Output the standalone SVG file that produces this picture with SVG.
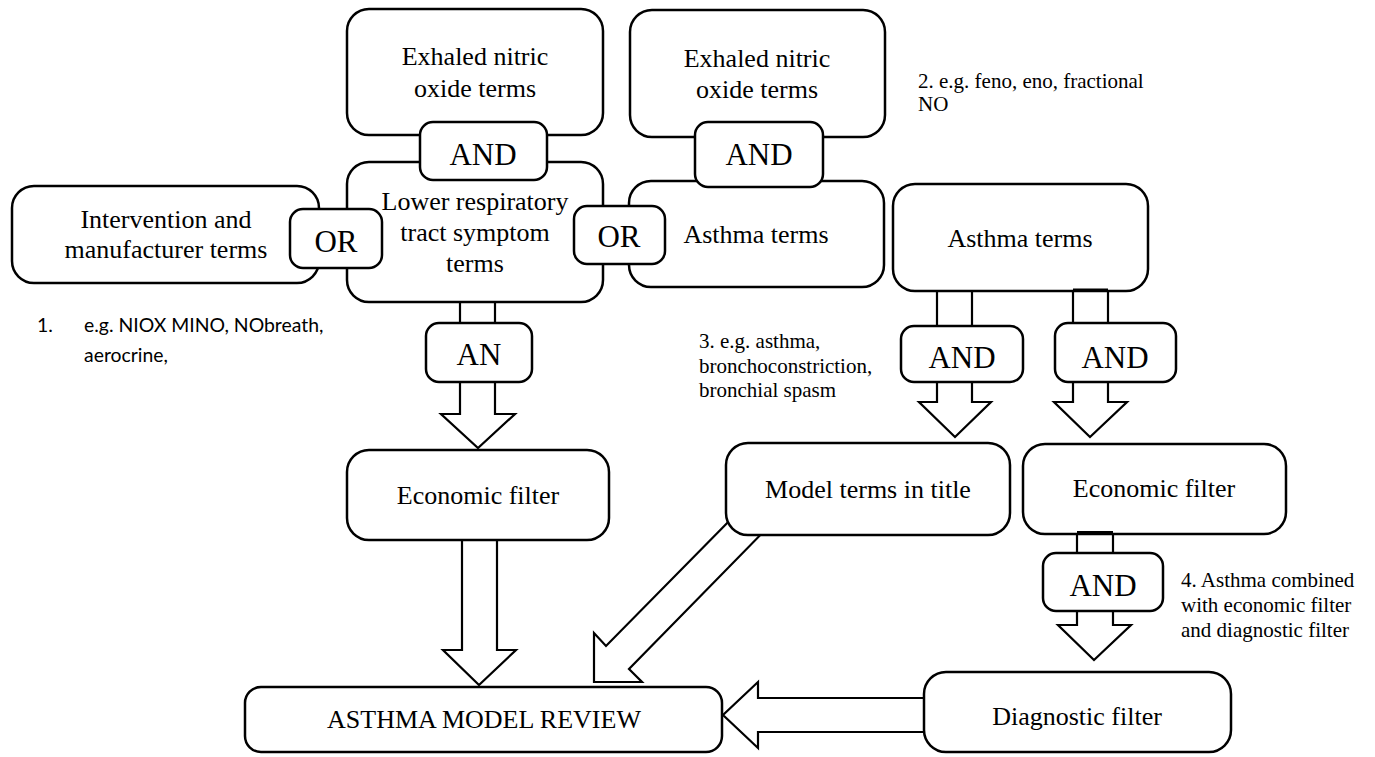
<svg xmlns="http://www.w3.org/2000/svg" width="1375" height="757" viewBox="0 0 1375 757">
  <style>
    .box { fill: #ffffff; stroke: #000000; stroke-width: 2.5; }
    .op { fill: #ffffff; stroke: #000000; stroke-width: 2.5; }
    .arrow { fill: #ffffff; stroke: #000000; stroke-width: 2.2; stroke-linejoin: miter; }
    .line { fill: none; stroke: #000000; stroke-width: 2.2; }
    .t { font-family: "Liberation Serif", "Times New Roman", serif; font-size: 26px; fill: #000000; text-anchor: middle; }
    .opt { font-family: "Liberation Serif", "Times New Roman", serif; font-size: 31px; fill: #000000; text-anchor: middle; }
    .note { font-family: "Liberation Serif", "Times New Roman", serif; font-size: 21px; fill: #000000; }
    .sans { font-family: "Lato", "Noto Sans", sans-serif; font-size: 19.4px; fill: #000000; }
  </style>

  <!-- block-arrow connectors, drawn beneath the boxes -->
  <g id="connectors">
    <!-- lower respiratory -> AN -> economic filter -->
    <path class="arrow" d="M460,295 V414 H441 L478,448 L515,414 H495 V295 Z"/>
    <!-- economic filter -> review -->
    <path class="arrow" d="M462,535 V650 H443 L479,685 L516,650 H497 V535 Z"/>
    <!-- asthma terms -> AND -> model terms in title -->
    <path class="arrow" d="M937,285 V402 H919 L955,437 L991,402 H972 V285 Z"/>
    <!-- asthma terms -> AND -> economic filter -->
    <path class="arrow" d="M1073,289.5 V402 H1054 L1090,437 L1127,402 H1108 V289.5 Z"/>
    <!-- economic filter -> AND -> diagnostic filter -->
    <path class="arrow" d="M1077,532 V625 H1058 L1094,660 L1131,625 H1113 V532 Z"/>
    <!-- diagnostic filter -> review -->
    <path class="arrow" d="M930,698 H758 V682 L723,715 L758,748 V732 H930 Z"/>
    <!-- model terms in title -> review (diagonal) -->
    <path class="arrow" d="M740,510 L606,646 L594,633 L594,682 L642,682 L629,669 L775,520 Z"/>
  </g>

  <!-- main boxes -->
  <g id="exhaled-1">
    <rect class="box" x="347" y="9" width="256" height="126" rx="22"/>
    <text class="t" x="475" y="65">Exhaled nitric</text>
    <text class="t" x="475" y="97">oxide terms</text>
  </g>
  <g id="lower-respiratory">
    <rect class="box" x="347" y="162" width="256" height="140" rx="22"/>
    <text class="t" x="475" y="210">Lower respiratory</text>
    <text class="t" x="475" y="241">tract symptom</text>
    <text class="t" x="475" y="272">terms</text>
  </g>
  <g id="intervention">
    <rect class="box" x="12" y="186" width="307" height="97" rx="22"/>
    <text class="t" x="166" y="228">Intervention and</text>
    <text class="t" x="166" y="258">manufacturer terms</text>
  </g>
  <g id="exhaled-2">
    <rect class="box" x="630" y="10" width="255" height="127" rx="22"/>
    <text class="t" x="757" y="67">Exhaled nitric</text>
    <text class="t" x="757" y="98">oxide terms</text>
  </g>
  <g id="asthma-1">
    <rect class="box" x="629" y="181" width="255" height="106" rx="22"/>
    <text class="t" x="756" y="243">Asthma terms</text>
  </g>
  <g id="asthma-2">
    <rect class="box" x="893" y="184" width="255" height="107" rx="22"/>
    <text class="t" x="1020" y="247">Asthma terms</text>
  </g>
  <g id="economic-filter-1">
    <rect class="box" x="347" y="450" width="262" height="90" rx="22"/>
    <text class="t" x="478" y="504">Economic filter</text>
  </g>
  <g id="model-terms">
    <rect class="box" x="726" y="443" width="284" height="92" rx="22"/>
    <text class="t" x="868" y="498">Model terms in title</text>
  </g>
  <g id="economic-filter-2">
    <rect class="box" x="1023" y="444" width="263" height="90" rx="22"/>
    <text class="t" x="1154" y="497">Economic filter</text>
  </g>
  <g id="diagnostic-filter">
    <rect class="box" x="924" y="672" width="307" height="80" rx="22"/>
    <text class="t" x="1077" y="725">Diagnostic filter</text>
  </g>
  <g id="review">
    <rect class="box" x="245" y="687" width="477" height="65" rx="16"/>
    <text class="t" x="484" y="728">ASTHMA MODEL REVIEW</text>
  </g>

  <!-- short caps where two shafts leave their boxes -->
  <g id="shaft-caps">
    <path class="line" d="M1073,289.5 H1108 M1077,532 H1113"/>
  </g>

  <!-- operator boxes -->
  <g id="and-1">
    <rect class="op" x="420" y="122" width="127" height="58" rx="13"/>
    <text class="opt" x="483" y="165">AND</text>
  </g>
  <g id="and-2">
    <rect class="op" x="695" y="122" width="128" height="65" rx="13"/>
    <text class="opt" x="759" y="165">AND</text>
  </g>
  <g id="or-1">
    <rect class="op" x="290" y="209" width="92" height="59" rx="13"/>
    <text class="opt" x="336" y="252">OR</text>
  </g>
  <g id="or-2">
    <rect class="op" x="574" y="206" width="91" height="58" rx="13"/>
    <text class="opt" x="619" y="247">OR</text>
  </g>
  <g id="an">
    <rect class="op" x="426" y="323" width="106" height="59" rx="13"/>
    <text class="opt" x="479" y="365">AN</text>
  </g>
  <g id="and-3">
    <rect class="op" x="901" y="326" width="122" height="56" rx="13"/>
    <text class="opt" x="962" y="368">AND</text>
  </g>
  <g id="and-4">
    <rect class="op" x="1055" y="323" width="121" height="59" rx="13"/>
    <text class="opt" x="1115" y="368">AND</text>
  </g>
  <g id="and-5">
    <rect class="op" x="1043" y="553" width="120" height="58" rx="13"/>
    <text class="opt" x="1103" y="596">AND</text>
  </g>

  <!-- footnotes -->
  <g id="note-1">
    <text class="sans" x="37" y="332">1.</text>
    <text class="sans" x="84" y="332">e.g. NIOX MINO, NObreath,</text>
    <text class="sans" x="84" y="362">aerocrine,</text>
  </g>
  <g id="note-2">
    <text class="note" x="918" y="88">2. e.g. feno, eno, fractional</text>
    <text class="note" x="918" y="111">NO</text>
  </g>
  <g id="note-3">
    <text class="note" x="699" y="348">3. e.g. asthma,</text>
    <text class="note" x="699" y="373">bronchoconstriction,</text>
    <text class="note" x="699" y="397">bronchial spasm</text>
  </g>
  <g id="note-4">
    <text class="note" x="1181" y="587">4. Asthma combined</text>
    <text class="note" x="1181" y="612">with economic filter</text>
    <text class="note" x="1181" y="637">and diagnostic filter</text>
  </g>
</svg>
